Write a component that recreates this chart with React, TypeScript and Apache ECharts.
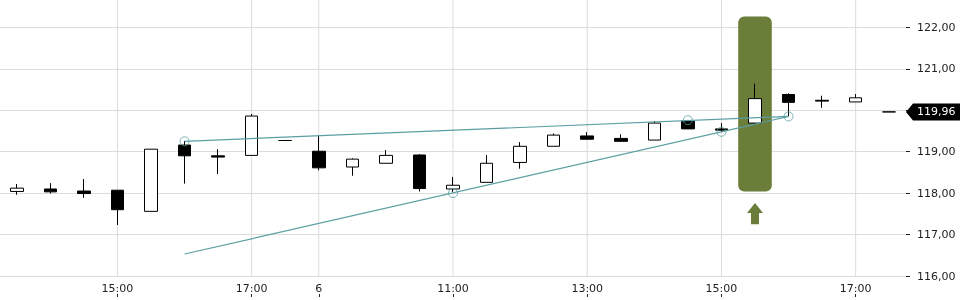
import React, { useEffect, useRef } from "react";
import * as echarts from "echarts";

const times = [
  "05 13:30", "05 14:00", "05 14:30", "05 15:00", "05 15:30", "05 16:00", "05 16:30", "05 17:00", "05 17:30",
  "06 09:00", "06 09:30", "06 10:00", "06 10:30", "06 11:00", "06 11:30", "06 12:00", "06 12:30", "06 13:00",
  "06 13:30", "06 14:00", "06 14:30", "06 15:00", "06 15:30", "06 16:00", "06 16:30", "06 17:00", "06 17:30",
];
const opens = [
  118.04, 118.10, 118.05, 118.07, 117.56, 119.16, 118.90, 118.91, 119.27,
  119.01, 118.63, 118.72, 118.92, 118.10, 118.26, 118.74, 119.13, 119.38,
  119.32, 119.28, 119.74, 119.55, 119.69, 120.38, 120.24, 120.20, 119.96,
];
const closes = [
  118.12, 118.03, 117.99, 117.60, 119.06, 118.90, 118.87, 119.86, 119.27,
  118.61, 118.82, 118.91, 118.11, 118.19, 118.72, 119.13, 119.40, 119.30,
  119.25, 119.69, 119.55, 119.52, 120.28, 120.19, 120.22, 120.30, 119.96,
];
const lows = [
  117.96, 117.99, 117.89, 117.23, 117.56, 118.23, 118.46, 118.91, 119.27,
  118.55, 118.42, 118.72, 118.04, 118.03, 118.26, 118.59, 119.13, 119.30,
  119.25, 119.28, 119.55, 119.47, 119.67, 119.86, 120.06, 120.20, 119.96,
];
const highs = [
  118.22, 118.24, 118.34, 118.07, 119.06, 119.26, 119.06, 119.91, 119.27,
  119.38, 118.84, 119.04, 118.94, 118.39, 118.92, 119.23, 119.44, 119.47,
  119.42, 119.74, 119.76, 119.69, 120.64, 120.41, 120.35, 120.39, 119.96,
];
const tickLabels: Record<string, string> = {
  "05 15:00": "15:00",
  "05 17:00": "17:00",
  "06 09:00": "6",
  "06 11:00": "11:00",
  "06 13:00": "13:00",
  "06 15:00": "15:00",
  "06 17:00": "17:00",
};
const resistanceLine: [number, number][] = [[5, 119.25], [23, 119.85]];
const supportLine: [number, number][] = [[5, 116.53], [23, 119.85]];
const pivots: [number, number][] = [[5, 119.25], [20, 119.76], [23, 119.85], [13, 118.0], [21, 119.48]];
// signal: [index, highlight top, highlight bottom, arrow tip, arrow base]
const signal = [[22, 122.26, 118.04, 117.76, 117.25]];
const yMin = 116;
const yMax = 122.66;

const TEAL = "#5a9ea2";
const GREEN = "#6a7d39";
const FONT = "DejaVu Sans";

const fmt = (v: number) => v.toFixed(2).replace(".", ",");

export default function App() {
  const ref = useRef<HTMLDivElement>(null);
  useEffect(() => {
    if (!ref.current) return;
    const chart = echarts.init(ref.current, undefined, { renderer: "svg" });
    const isLabelled = (_i: number, v: string) => v in tickLabels;
    const labelIdx = times.map((t, i) => (t in tickLabels ? i : -1)).filter((i) => i >= 0);
    const candleData = times.map((_, i) => [opens[i], closes[i], lows[i], highs[i]]);
    chart.setOption({
      animation: false,
      textStyle: { fontFamily: FONT },
      grid: { left: 0, right: 54, top: 0, bottom: 24 },
      xAxis: [
        {
          type: "category",
          data: times,
          boundaryGap: true,
          axisLine: { show: false },
          axisTick: { show: false },
          splitLine: { show: false },
          axisLabel: {
            interval: isLabelled,
            formatter: (v: string) => tickLabels[v] || "",
            color: "#222",
            fontSize: 11,
            fontFamily: FONT,
            margin: 7,
          },
        },
        {
          type: "category",
          data: times,
          position: "bottom",
          offset: 18,
          boundaryGap: true,
          axisLine: { show: false },
          axisLabel: { show: false },
          splitLine: { show: false },
          axisTick: {
            show: true,
            alignWithLabel: true,
            interval: isLabelled,
            length: 3,
            lineStyle: { color: "#222", width: 1 },
          },
        },
      ],
      yAxis: {
        type: "value",
        position: "right",
        min: yMin,
        max: yMax,
        interval: 1,
        axisLine: { show: false },
        axisTick: { show: true, length: 4, lineStyle: { color: "#222" } },
        splitLine: { show: true, showMaxLine: false, lineStyle: { color: "#dcdcdc", width: 1 } },
        axisLabel: {
          showMaxLabel: false,
          formatter: (v: number) => fmt(v),
          color: "#222",
          fontSize: 11,
          fontFamily: FONT,
          margin: 11,
        },
      },
      series: [
        {
          type: "custom",
          name: "vgrid",
          z: 0,
          silent: true,
          data: labelIdx.map((i) => [i]),
          renderItem: (params: any, api: any) => {
            const x = api.coord([api.value(0), yMin])[0];
            const cs = params.coordSys;
            return {
              type: "line",
              shape: { x1: x, y1: cs.y, x2: x, y2: cs.y + cs.height },
              style: { stroke: "#dcdcdc", lineWidth: 1 },
            };
          },
        },
        {
          type: "custom",
          name: "signal",
          z: 1,
          silent: true,
          data: signal,
          renderItem: (_params: any, api: any) => {
            const idx = api.value(0);
            const top = api.coord([idx, api.value(1)]);
            const bot = api.coord([idx, api.value(2)]);
            const tip = api.coord([idx, api.value(3)]);
            const base = api.coord([idx, api.value(4)]);
            const w = api.size([1, 0])[0];
            const cx = top[0];
            const hy = tip[1] + 10;
            return {
              type: "group",
              children: [
                {
                  type: "rect",
                  shape: { x: cx - w / 2, y: top[1], width: w, height: bot[1] - top[1], r: 6 },
                  style: { fill: GREEN },
                },
                {
                  type: "polygon",
                  shape: {
                    points: [
                      [cx, tip[1]],
                      [cx + 8, hy],
                      [cx + 4, hy],
                      [cx + 4, base[1]],
                      [cx - 4, base[1]],
                      [cx - 4, hy],
                      [cx - 8, hy],
                    ],
                  },
                  style: { fill: GREEN },
                },
              ],
            };
          },
        },
        {
          type: "candlestick",
          name: "price",
          z: 3,
          barWidth: 13,
          data: candleData,
          itemStyle: {
            color: "#ffffff",
            color0: "#000000",
            borderColor: "#000000",
            borderColor0: "#000000",
            borderWidth: 1,
          },
        },
        {
          type: "line",
          name: "resistance",
          z: 4,
          data: resistanceLine,
          showSymbol: false,
          silent: true,
          lineStyle: { color: TEAL, width: 1.2 },
        },
        {
          type: "line",
          name: "support",
          z: 4,
          data: supportLine,
          showSymbol: false,
          silent: true,
          lineStyle: { color: TEAL, width: 1.2 },
        },
        {
          type: "scatter",
          name: "pivots",
          z: 5,
          data: pivots,
          symbol: "circle",
          symbolSize: 9,
          silent: true,
          itemStyle: { color: "rgba(255,255,255,0)", borderColor: TEAL, borderWidth: 1 },
        },
      ],
    });
    const last = closes[closes.length - 1];
    const py = chart.convertToPixel({ yAxisIndex: 0 }, last) as number;
    const px = 960 - 54;
    chart.setOption({
      graphic: [
        {
          type: "polygon",
          shape: {
            points: [
              [px, py],
              [px + 7, py - 8.5],
              [960, py - 8.5],
              [960, py + 8.5],
              [px + 7, py + 8.5],
            ],
          },
          style: { fill: "#000" },
          z: 10,
        },
        {
          type: "text",
          x: px + 11,
          y: py,
          style: {
            text: fmt(last),
            fill: "#fff",
            font: `11px "${FONT}"`,
            verticalAlign: "middle",
            align: "left",
          },
          z: 11,
        },
      ],
    });
    return () => chart.dispose();
  }, []);
  return (
    <div
      ref={ref}
      style={{ position: "fixed", left: 0, top: 0, width: 960, height: 300 }}
    />
  );
}
